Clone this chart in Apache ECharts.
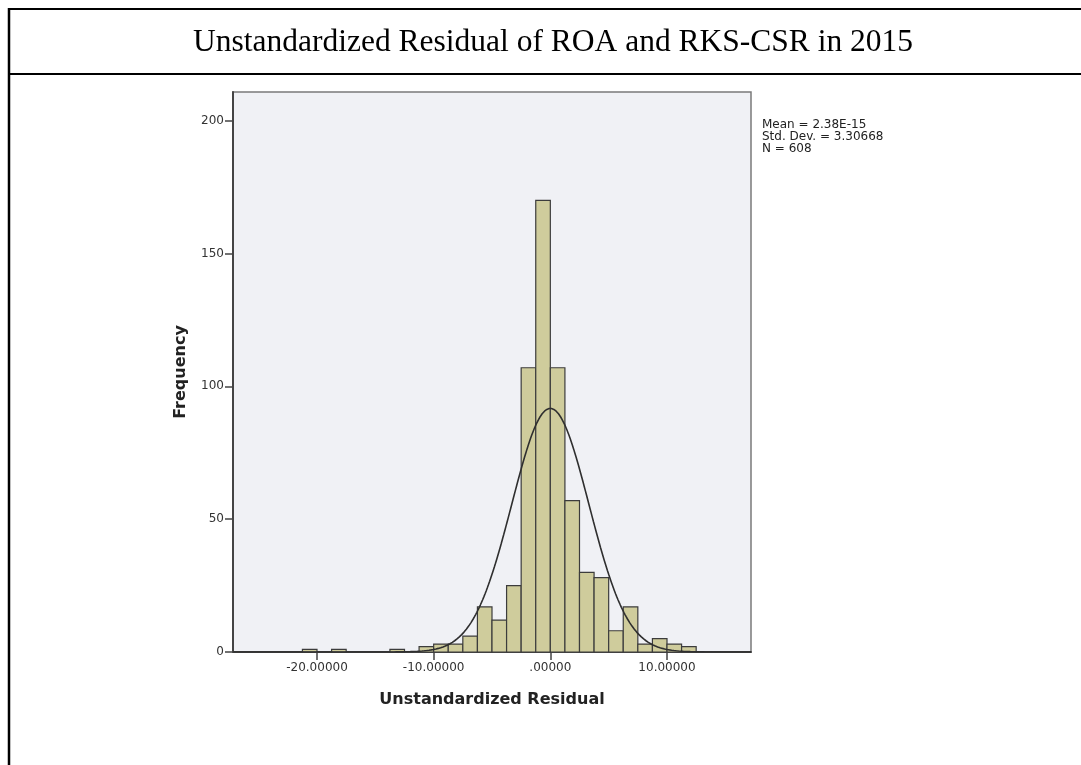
<!DOCTYPE html>
<html>
<head>
<meta charset="utf-8">
<script src="https://cdn.jsdelivr.net/npm/echarts@6/dist/echarts.min.js"></script>
<style>
html,body{margin:0;padding:0;background:#fff;}
#chart{width:1081px;height:765px;}
</style>
</head>
<body>
<div id="chart"></div>
<script>
// Histogram bins (lower edge, upper edge) and frequencies
const binLower = [-21.25, -18.75, -13.75, -11.25, -10, -8.75, -7.5, -6.25, -5, -3.75, -2.5, -1.25, 0, 1.25, 2.5, 3.75, 5, 6.25, 7.5, 8.75, 10, 11.25];
const binWidth = 1.25;
const frequencies = [1, 1, 1, 2, 3, 3, 6, 17, 12, 25, 107, 170, 107, 57, 30, 28, 8, 17, 3, 5, 3, 2];
const xTickValues = [-20, -10, 0, 10];
const yTickValues = [0, 50, 100, 150, 200];
// Summary statistics shown on the chart (normal curve overlay uses these)
const MEAN = 2.38e-15;
const STD_DEV = 3.30668;
const N_CASES = 608;
const statsLines = ['Mean = 2.38E-15', 'Std. Dev. = 3.30668', 'N = 608'];
const titleText = 'Unstandardized Residual of ROA and RKS-CSR in 2015';
const xName = 'Unstandardized Residual';
const yName = 'Frequency';

const X_MIN = -27.2, X_MAX = 17.2, Y_MAX = 210.8;

const histData = binLower.map((lo, i) => [lo, lo + binWidth, frequencies[i]]);

// SPSS normal curve overlay: N * binWidth * normal pdf(mean, sd)
const curveData = [];
for (let k = 0; k <= 444; k++) {
  const x = X_MIN + k * 0.1;
  const z = (x - MEAN) / STD_DEV;
  curveData.push([x, N_CASES * binWidth * Math.exp(-0.5 * z * z) / (STD_DEV * Math.sqrt(2 * Math.PI))]);
}

const chart = echarts.init(document.getElementById('chart'), null, {renderer: 'canvas'});
const sans = 'DejaVu Sans';
chart.setOption({
  animation: false,
  backgroundColor: '#ffffff',
  title: {
    text: titleText,
    left: 188,
    top: 22,
    textStyle: {fontFamily: 'Liberation Serif', fontSize: 31.5, fontWeight: 'normal', color: '#000'}
  },
  grid: {
    left: 233, right: 330, top: 92, bottom: 113,
    show: true, backgroundColor: '#f0f1f5', borderColor: '#7a7a7a', borderWidth: 1.5
  },
  xAxis: {
    type: 'value', min: X_MIN, max: X_MAX,
    name: xName, nameLocation: 'middle', nameGap: 40,
    nameTextStyle: {fontFamily: sans, fontSize: 16, fontWeight: 'bold', color: '#222'},
    axisLine: {show: true, onZero: false, lineStyle: {color: '#444', width: 2}},
    axisTick: {show: true, length: 8, lineStyle: {color: '#444', width: 1.5}, customValues: xTickValues},
    axisLabel: {customValues: xTickValues, margin: 10, fontFamily: sans, fontSize: 12, color: '#333',
      formatter: v => v === 0 ? '.00000' : v.toFixed(5)},
    splitLine: {show: false}
  },
  yAxis: {
    type: 'value', min: 0, max: Y_MAX,
    name: yName, nameLocation: 'middle', nameGap: 44, nameRotate: 90,
    nameTextStyle: {fontFamily: sans, fontSize: 16, fontWeight: 'bold', color: '#222'},
    axisLine: {show: true, onZero: false, lineStyle: {color: '#444', width: 2}},
    axisTick: {show: true, length: 8, lineStyle: {color: '#444', width: 1.5}, customValues: yTickValues},
    axisLabel: {customValues: yTickValues, margin: 9, fontFamily: sans, fontSize: 12, color: '#333'},
    splitLine: {show: false}
  },
  series: [
    {
      type: 'custom',
      data: histData,
      renderItem: function (params, api) {
        const p1 = api.coord([api.value(0), api.value(2)]);
        const p2 = api.coord([api.value(1), 0]);
        return {
          type: 'rect',
          shape: {x: p1[0], y: p1[1], width: p2[0] - p1[0], height: p2[1] - p1[1]},
          style: {fill: '#cfcc9c', stroke: '#3c3c3c', lineWidth: 1.2}
        };
      },
      z: 2
    },
    {
      type: 'line',
      data: curveData,
      showSymbol: false,
      smooth: false,
      lineStyle: {color: '#2f2f2f', width: 1.6},
      clip: true,
      z: 3
    }
  ],
  graphic: [
    {type: 'line', shape: {x1: 8, y1: 9, x2: 1081, y2: 9}, style: {stroke: '#000', lineWidth: 2}},
    {type: 'line', shape: {x1: 8, y1: 74, x2: 1081, y2: 74}, style: {stroke: '#000', lineWidth: 2}},
    {type: 'line', shape: {x1: 9, y1: 8, x2: 9, y2: 765}, style: {stroke: '#000', lineWidth: 2.5}},
    {type: 'text', left: 762, top: 119,
      style: {text: statsLines.join('\n'), fontFamily: sans, fontSize: 12, lineHeight: 12, fill: '#222'}}
  ]
});
</script>
</body>
</html>
